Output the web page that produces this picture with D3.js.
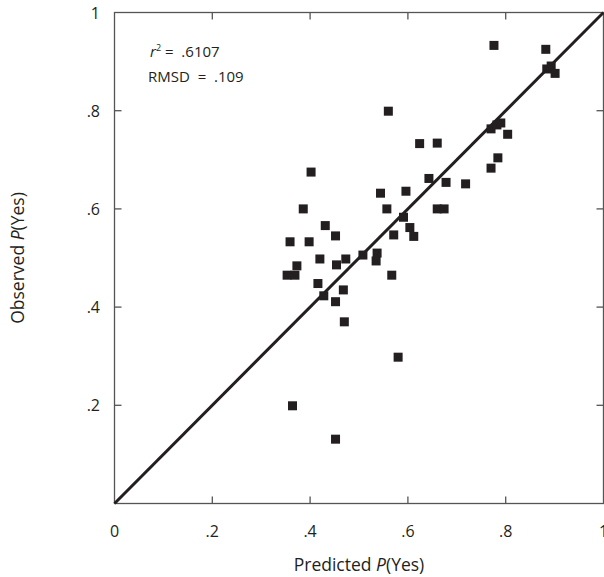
<!DOCTYPE html>
<html>
<head>
<meta charset="utf-8">
<script src="https://cdn.jsdelivr.net/npm/d3@7"></script>
<style>
  body { margin: 0; background: #fff; }
  svg { display: block; font-family: "Open Sans", "Noto Sans", sans-serif; }
  text { white-space: pre; }
</style>
</head>
<body>
<svg id="chart" width="604" height="577"></svg>
<script>
// predicted vs observed P(Yes)
var predicted = [0.776, 0.882, 0.884, 0.893, 0.901, 0.560, 0.770, 0.782, 0.790, 0.804,
                 0.624, 0.660, 0.784, 0.402, 0.770, 0.643, 0.678, 0.718, 0.544, 0.596,
                 0.386, 0.557, 0.660, 0.674, 0.591, 0.604, 0.431, 0.452, 0.571, 0.612,
                 0.359, 0.398, 0.420, 0.473, 0.508, 0.537, 0.535, 0.373, 0.454, 0.353,
                 0.369, 0.567, 0.416, 0.468, 0.428, 0.452, 0.470, 0.580, 0.364, 0.452];
var observed  = [0.933, 0.925, 0.885, 0.891, 0.876, 0.799, 0.763, 0.771, 0.775, 0.752,
                 0.733, 0.734, 0.704, 0.675, 0.683, 0.662, 0.654, 0.651, 0.632, 0.636,
                 0.600, 0.600, 0.600, 0.600, 0.583, 0.562, 0.566, 0.545, 0.547, 0.544,
                 0.533, 0.533, 0.498, 0.498, 0.506, 0.510, 0.494, 0.484, 0.486, 0.465,
                 0.465, 0.465, 0.448, 0.435, 0.423, 0.411, 0.370, 0.298, 0.199, 0.131];
var tickValues = [0, 0.2, 0.4, 0.6, 0.8, 1];
var tickLabels = ["0", ".2", ".4", ".6", ".8", "1"];
var statLines = [["r", "2", " =  .6107"], ["RMSD  =  .109"]];

var svg = d3.select("#chart");
var x = d3.scaleLinear().domain([0, 1]).range([114.5, 603.5]);
var y = d3.scaleLinear().domain([0, 1]).range([503.5, 12.5]);
var axisColor = "#555", ink = "#231f20", tickLen = 7;

var fmt = function(d) { return tickLabels[tickValues.indexOf(d)]; };

// frame with inward ticks on every side
var frame = svg.append("g");
frame.append("rect")
    .attr("x", x(0)).attr("y", y(1))
    .attr("width", x(1) - x(0)).attr("height", y(0) - y(1))
    .attr("fill", "none").attr("stroke", axisColor).attr("stroke-width", 1.3);

var inner = tickValues.filter(function(d) { return d > 0 && d < 1; });
inner.forEach(function(d) {
    frame.append("line").attr("x1", x(d)).attr("x2", x(d)).attr("y1", y(0)).attr("y2", y(0) - tickLen);
    frame.append("line").attr("x1", x(d)).attr("x2", x(d)).attr("y1", y(1)).attr("y2", y(1) + tickLen);
    frame.append("line").attr("y1", y(d)).attr("y2", y(d)).attr("x1", x(0)).attr("x2", x(0) + tickLen);
    frame.append("line").attr("y1", y(d)).attr("y2", y(d)).attr("x1", x(1)).attr("x2", x(1) - tickLen);
});
frame.selectAll("line").attr("stroke", axisColor).attr("stroke-width", 1.3);

// tick labels
svg.append("g").selectAll("text").data(tickValues).join("text")
    .attr("x", function(d) { return x(d); })
    .attr("y", 537)
    .attr("text-anchor", "middle")
    .attr("font-size", 16)
    .attr("fill", ink)
    .text(fmt);

svg.append("g").selectAll("text").data(tickValues.filter(function(d) { return d > 0; })).join("text")
    .attr("x", 100)
    .attr("y", function(d) { return y(d) + 6; })
    .attr("text-anchor", "end")
    .attr("font-size", 16)
    .attr("fill", ink)
    .text(fmt);

// axis titles
var xt = svg.append("text")
    .attr("x", 359).attr("y", 571)
    .attr("text-anchor", "middle").attr("font-size", 17.5).attr("fill", ink);
xt.append("tspan").text("Predicted ");
xt.append("tspan").attr("font-style", "italic").text("P");
xt.append("tspan").text("(Yes)");

var yt = svg.append("text")
    .attr("transform", "translate(24," + (y(0.5)) + ") rotate(-90)")
    .attr("text-anchor", "middle").attr("font-size", 17.5).attr("fill", ink);
yt.append("tspan").text("Observed ");
yt.append("tspan").attr("font-style", "italic").text("P");
yt.append("tspan").text("(Yes)");

// stats
var s1 = svg.append("text").attr("x", 150).attr("y", 57).attr("font-size", 15).attr("fill", ink);
s1.append("tspan").attr("font-style", "italic").text(statLines[0][0]);
s1.append("tspan").attr("font-size", 9).attr("dy", -6).text(statLines[0][1]);
s1.append("tspan").attr("dy", 6).text(statLines[0][2]);
svg.append("text").attr("x", 148).attr("y", 82).attr("font-size", 15).attr("fill", ink)
    .text(statLines[1][0]);

// identity line
svg.append("line")
    .attr("x1", x(0)).attr("y1", y(0)).attr("x2", x(1)).attr("y2", y(1))
    .attr("stroke", ink).attr("stroke-width", 3);

// points
var sq = 9;
svg.append("g").selectAll("rect").data(predicted).join("rect")
    .attr("x", function(d) { return x(d) - sq / 2; })
    .attr("y", function(d, i) { return y(observed[i]) - sq / 2; })
    .attr("width", sq).attr("height", sq)
    .attr("fill", ink);
</script>
</body>
</html>
